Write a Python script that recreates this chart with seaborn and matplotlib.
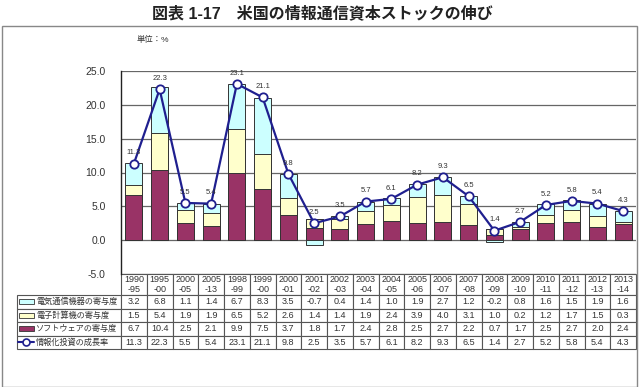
import pandas as pd
import matplotlib.pyplot as plt
import seaborn as sns
import numpy as np
from matplotlib.patches import Rectangle
from matplotlib.lines import Line2D

periods = ['1990\n-95', '1995\n-00', '2000\n-05', '2005\n-13', '1998\n-99', '1999\n-00',
           '2000\n-01', '2001\n-02', '2002\n-03', '2003\n-04', '2004\n-05', '2005\n-06',
           '2006\n-07', '2007\n-08', '2008\n-09', '2009\n-10', '2010\n-11', '2011\n-12',
           '2012\n-13', '2013\n-14']
telecom = [3.2, 6.8, 1.1, 1.4, 6.7, 8.3, 3.5, -0.7, 0.4, 1.4, 1.0, 1.9, 2.7, 1.2, -0.2, 0.8, 1.6, 1.5, 1.9, 1.6]
computer = [1.5, 5.4, 1.9, 1.9, 6.5, 5.2, 2.6, 1.4, 1.4, 1.9, 2.4, 3.9, 4.0, 3.1, 1.0, 0.2, 1.2, 1.7, 1.5, 0.3]
software = [6.7, 10.4, 2.5, 2.1, 9.9, 7.5, 3.7, 1.8, 1.7, 2.4, 2.8, 2.5, 2.7, 2.2, 0.7, 1.7, 2.5, 2.7, 2.0, 2.4]
growth = [11.3, 22.3, 5.5, 5.4, 23.1, 21.1, 9.8, 2.5, 3.5, 5.7, 6.1, 8.2, 9.3, 6.5, 1.4, 2.7, 5.2, 5.8, 5.4, 4.3]
series_names = ['電気通信機器の寄与度', '電子計算機の寄与度', 'ソフトウェアの寄与度', '情報化投資の成長率']

c_tel, c_comp, c_soft, c_line = '#CCFFFF', '#FFFFCC', '#993366', '#1f1f8f'

sns.set_theme(style='white')
plt.rcParams['font.family'] = ['Liberation Sans', 'Noto Sans CJK JP']

df = pd.DataFrame({'period': periods, 'telecom': telecom, 'computer': computer,
                   'software': software, 'growth': growth})
df['mid'] = df['software'] + df['computer']
df['top'] = df['mid'] + df['telecom'].clip(lower=0)
df['neg'] = df['telecom'].clip(upper=0)

W, H = 644, 387
fig = plt.figure(figsize=(W / 100, H / 100), dpi=100)
ax = fig.add_axes([121 / W, 1 - 274 / H, 515 / W, 203 / H])

bar_kw = dict(x='period', order=periods, width=0.66, edgecolor='#333333',
              linewidth=0.7, errorbar=None, ax=ax, saturation=1)
sns.barplot(data=df, y='top', color=c_tel, **bar_kw)
sns.barplot(data=df, y='mid', color=c_comp, **bar_kw)
sns.barplot(data=df, y='software', color=c_soft, **bar_kw)
sns.barplot(data=df[df['neg'] < 0], y='neg', color=c_tel, **bar_kw)

sns.pointplot(data=df, x='period', y='growth', order=periods, color=c_line,
              markers='o', linewidth=1.6, markersize=6, markeredgewidth=1.3,
              errorbar=None, ax=ax)
for ln in ax.lines:
    ln.set_markerfacecolor('white')
    ln.set_zorder(5)

for i, v in enumerate(growth):
    ax.text(i, v + 1.6, f'{v:.1f}', ha='center', va='center', fontsize=5.5,
            color='#333333', zorder=6)

ax.set_xlim(-0.5, len(periods) - 0.5)
ax.set_ylim(-5, 25)
ax.set_yticks(np.arange(-5, 26, 5))
ax.set_yticklabels([f'{t:.1f}' for t in np.arange(-5, 26, 5)])
ax.tick_params(axis='y', length=0, pad=11, labelsize=7.5, labelcolor='#333333')
ax.set_xticks([])
ax.set_xlabel('')
ax.set_ylabel('')
ax.yaxis.grid(True, color='#666666', linewidth=0.9)
ax.xaxis.grid(False)
ax.set_axisbelow(True)
for s in ['top', 'right', 'bottom']:
    ax.spines[s].set_visible(False)
ax.spines['left'].set_color('#222222')
ax.spines['left'].set_linewidth(1.0)

# data table under the plot
cell_text = [[''] + [f'{v:.1f}' for v in s] for s in (telecom, computer, software, growth)]
tbl = ax.table(cellText=cell_text, colLabels=[''] + periods,
               colWidths=[104 / 619] + [25.75 / 619] * 20, cellLoc='center',
               bbox=[-104 / 515, -75 / 203, 619 / 515, 75 / 203])
tbl.auto_set_font_size(False)
tbl.set_fontsize(6.5)
for (r, c), cell in tbl.get_celld().items():
    cell.set_height(21 if r == 0 else 13.5)
    cell.set_edgecolor('#555555')
    cell.set_linewidth(0.8)
    cell.get_text().set_color('#333333')
    cell.get_text().set_linespacing(1.0)
    if r == 0 and c == 0:
        cell.visible_edges = 'open'

row_centers = [301.7, 315.2, 328.7, 342.2]
for name, yc, col in zip(series_names, row_centers, [c_tel, c_comp, c_soft, None]):
    yf = 1 - yc / H
    if col is not None:
        fig.add_artist(Rectangle((19 / W, yf - 2.5 / H), 15 / W, 5 / H, facecolor=col,
                                 edgecolor='#333333', linewidth=0.6, transform=fig.transFigure))
    else:
        fig.add_artist(Line2D([18 / W, 34 / W], [yf, yf], color=c_line, linewidth=1.5,
                              transform=fig.transFigure))
        fig.add_artist(Line2D([26 / W], [yf], marker='o', markersize=5, markerfacecolor='white',
                              markeredgecolor=c_line, markeredgewidth=1.2,
                              transform=fig.transFigure))
    fig.text(36 / W, yf, name, fontsize=5.9, va='center', ha='left', color='#333333')

# outer frame, title and unit
fig.add_artist(Rectangle((1.5 / W, 0), 635 / W, 1 - 26 / H, fill=False, edgecolor='#888888',
                         linewidth=1.0, transform=fig.transFigure))
fig.text(0.5, 1 - 13 / H, '図表 1-17　米国の情報通信資本ストックの伸び', fontsize=11.5,
         fontweight='bold', ha='center', va='center', color='#222222')
fig.text(137 / W, 1 - 40 / H, '単位：%', fontsize=6, va='center', ha='left', color='#333333')

fig.savefig('out.png', dpi=100)
